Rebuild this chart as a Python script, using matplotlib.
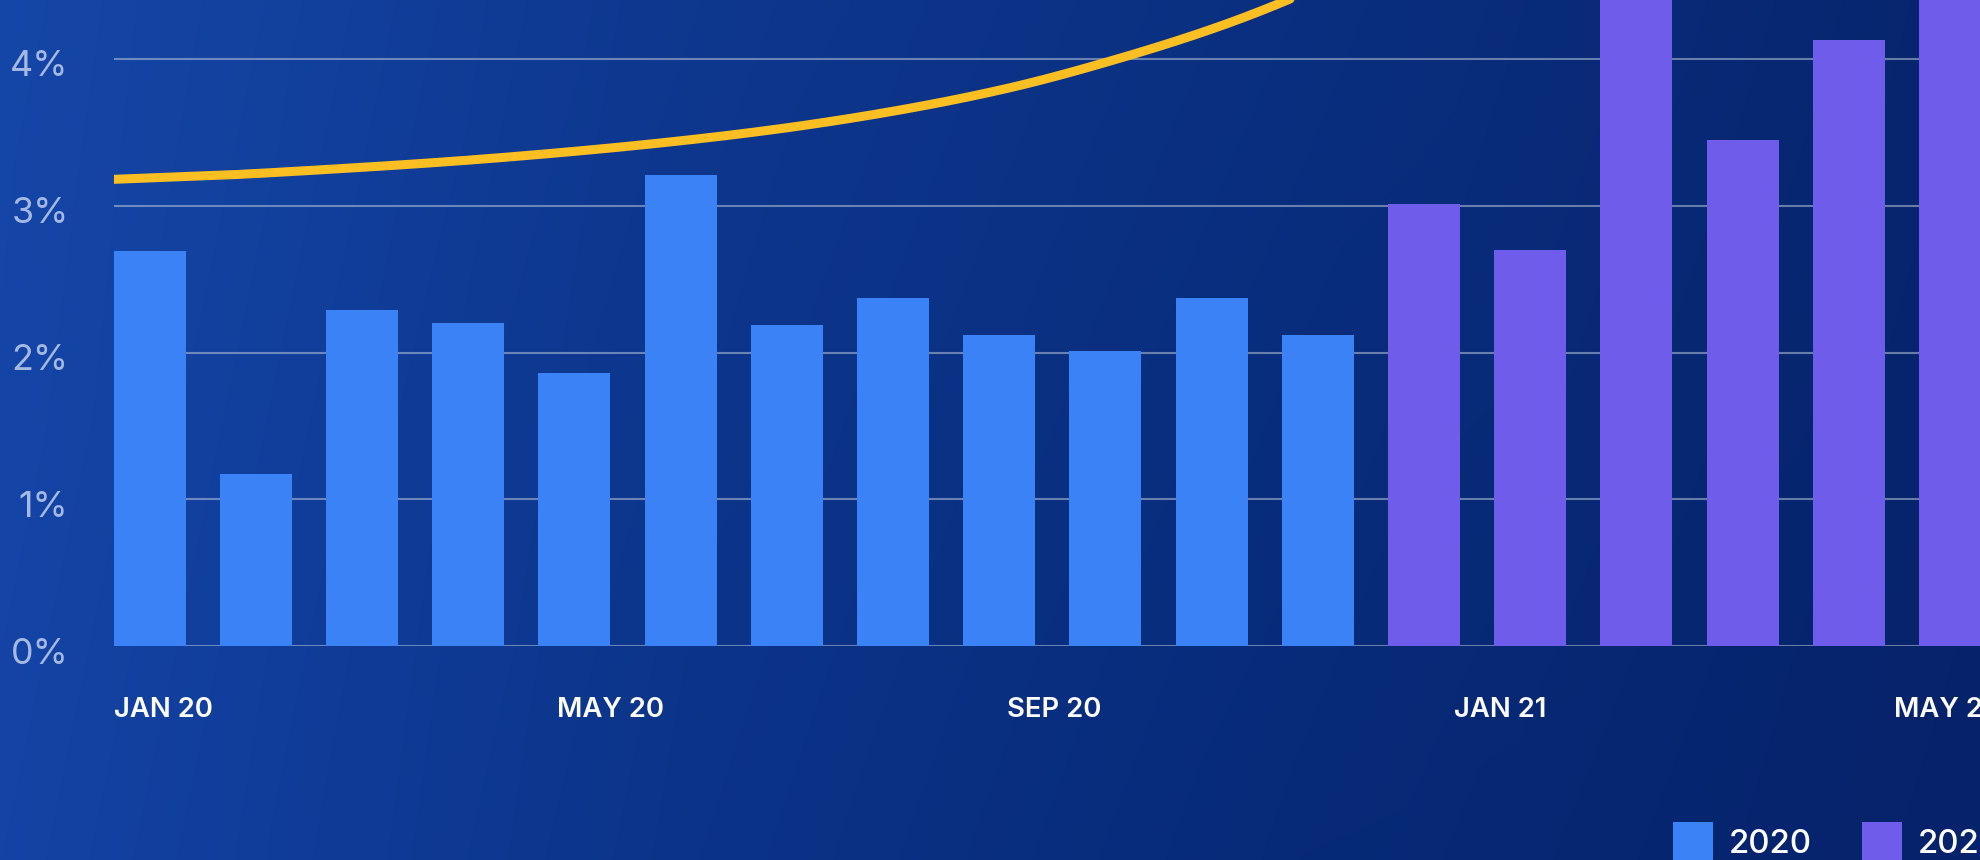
import numpy as np
import pandas as pd
import matplotlib
matplotlib.use("Agg")
import matplotlib.pyplot as plt
from matplotlib import transforms

plt.rcParams['font.family'] = ['Inter', 'DejaVu Sans']

# ---------------- data ----------------
months_2020 = ['2020-01', '2020-02', '2020-03', '2020-04', '2020-05', '2020-06',
               '2020-07', '2020-08', '2020-09', '2020-10', '2020-11', '2020-12']
rate_2020 = [2.69, 1.17, 2.29, 2.20, 1.86, 3.21, 2.19, 2.37, 2.12, 2.01, 2.37, 2.12]

months_2021 = ['2021-01', '2021-02', '2021-03', '2021-04', '2021-05', '2021-06']
rate_2021 = [3.01, 2.70, 4.90, 3.45, 4.13, 4.75]

trend_dates = ['2020-01-01', '2020-02-01', '2020-03-01', '2020-04-01', '2020-05-01',
               '2020-06-01', '2020-07-01', '2020-08-01', '2020-09-01', '2020-10-01',
               '2020-11-01', '2020-12-01', '2021-01-01']
trend_values = [3.18, 3.21, 3.25, 3.30, 3.36, 3.435, 3.525, 3.645, 3.80, 4.00, 4.25, 4.56, 4.95]

tick_dates = ['2020-01-01', '2020-05-01', '2020-09-01', '2021-01-01', '2021-05-01']
tick_labels = ['JAN 20', 'MAY 20', 'SEP 20', 'JAN 21', 'MAY 21']

y_ticks = [0, 1, 2, 3, 4]
y_tick_labels = ['0%', '1%', '2%', '3%', '4%']
series_labels = ['2020', '2021']

# ---------------- style ----------------
BLUE = '#3b82f6'
PURPLE = '#6f5ceb'
YELLOW = '#fbbf24'
BAR_W = 0.678
DAY_TO_BAND = 0.03449          # time axis scale (band units per day)
ORIGIN = pd.Timestamp('2020-01-01')

W_PX, H_PX = 1980, 860
fig = plt.figure(figsize=(W_PX / 100, H_PX / 100), dpi=100)

# background gradient
top_stops = np.array([[0x15, 0x47, 0xa8], [0x0e, 0x37, 0x8e], [0x0a, 0x2f, 0x80], [0x07, 0x25, 0x6e]]) / 255
bot_stops = np.array([[0x14, 0x43, 0xa5], [0x0b, 0x33, 0x88], [0x07, 0x2a, 0x78], [0x06, 0x22, 0x6a]]) / 255
xs_stop = np.array([0, 700, 1300, 1980]) / W_PX
gx = np.linspace(0, 1, 400)
gy = np.linspace(0, 1, 100)[:, None]
img = np.zeros((100, 400, 3))
for c in range(3):
    t = np.interp(gx, xs_stop, top_stops[:, c])
    b = np.interp(gx, xs_stop, bot_stops[:, c])
    img[:, :, c] = t[None, :] * (1 - gy) + b[None, :] * gy
bg = fig.add_axes([0, 0, 1, 1])
bg.imshow(img, aspect='auto', extent=[0, 1, 0, 1], interpolation='bilinear', zorder=0)
bg.set_axis_off()

# main axes (extends beyond the right/top edge of the picture, like the reference crop)
n_bars = len(rate_2020) + len(rate_2021)
left_px, step_px, zero_px, unit_px = 113.6, 106.2, 646, 146.75
x_lo, x_hi = -BAR_W / 2, n_bars - 1 + BAR_W / 2
y_lo, y_hi = 0, 5
ax = fig.add_axes([left_px / W_PX, (H_PX - zero_px) / H_PX,
                   (x_hi - x_lo) * step_px / W_PX, (y_hi - y_lo) * unit_px / H_PX])
ax.set_facecolor('none')
ax.set_xlim(x_lo, x_hi)
ax.set_ylim(y_lo, y_hi)
for s in ax.spines.values():
    s.set_visible(False)

x2020 = np.arange(len(rate_2020))
x2021 = np.arange(len(rate_2021)) + len(rate_2020)
b1 = ax.bar(x2020, rate_2020, width=BAR_W, color=BLUE, label=series_labels[0], zorder=2)
b2 = ax.bar(x2021, rate_2021, width=BAR_W, color=PURPLE, label=series_labels[1], zorder=2)

# trend line on the time scale, smooth (monotone cubic) through monthly points
def to_band(dates):
    d = (pd.to_datetime(dates) - ORIGIN).days.values.astype(float)
    return x_lo + d * DAY_TO_BAND

def monotone(x, y, xs):
    x = np.asarray(x, float); y = np.asarray(y, float)
    h = np.diff(x); d = np.diff(y) / h
    m = np.zeros_like(y)
    m[0], m[-1] = d[0], d[-1]
    for k in range(1, len(x) - 1):
        if d[k - 1] * d[k] > 0:
            w1 = 2 * h[k] + h[k - 1]; w2 = h[k] + 2 * h[k - 1]
            m[k] = (w1 + w2) / (w1 / d[k - 1] + w2 / d[k])
    idx = np.clip(np.searchsorted(x, xs) - 1, 0, len(x) - 2)
    t = (xs - x[idx]) / h[idx]
    h00 = 2 * t**3 - 3 * t**2 + 1; h10 = t**3 - 2 * t**2 + t
    h01 = -2 * t**3 + 3 * t**2; h11 = t**3 - t**2
    return h00 * y[idx] + h10 * h[idx] * m[idx] + h01 * y[idx + 1] + h11 * h[idx] * m[idx + 1]

tx = to_band(trend_dates)
fine_x = np.linspace(tx[0], tx[-1], 600)
ax.plot(fine_x, monotone(tx, trend_values, fine_x), color=YELLOW, lw=6.5,
        solid_capstyle='round', zorder=3)

# grid
ax.set_axisbelow(True)
ax.set_yticks(y_ticks, y_tick_labels)
ax.yaxis.grid(True, color='#c8d2e0', alpha=0.5, lw=1.5, zorder=1)
ax.xaxis.grid(False)

# x tick labels (time scale, left aligned)
ax.set_xticks(to_band(tick_dates), tick_labels)
ax.tick_params(axis='x', length=0, pad=51.1, labelsize=19.8, labelcolor='white')
for lab in ax.get_xticklabels():
    lab.set_ha('left'); lab.set_va('baseline'); lab.set_fontweight('semibold')

ax.tick_params(axis='y', length=0, pad=32.5, labelsize=25.8, labelcolor='#a5b9e4')
off = transforms.ScaledTranslation(0, -17.5 / 100, fig.dpi_scale_trans)
for lab in ax.get_yticklabels():
    lab.set_va('baseline')
    lab.set_transform(lab.get_transform() + off)

# legend
leg = fig.legend([b1, b2], series_labels, loc='upper left',
                 bbox_to_anchor=(1673 / W_PX, 1 - 822 / H_PX), ncol=2, frameon=False,
                 fontsize=23.8, handlelength=1.21, handleheight=1.45, handletextpad=0.48,
                 columnspacing=1.52, borderpad=0, borderaxespad=0, labelcolor='white')
for t in leg.get_texts():
    t.set_fontweight('medium')

fig.savefig('out.png', dpi=100)
